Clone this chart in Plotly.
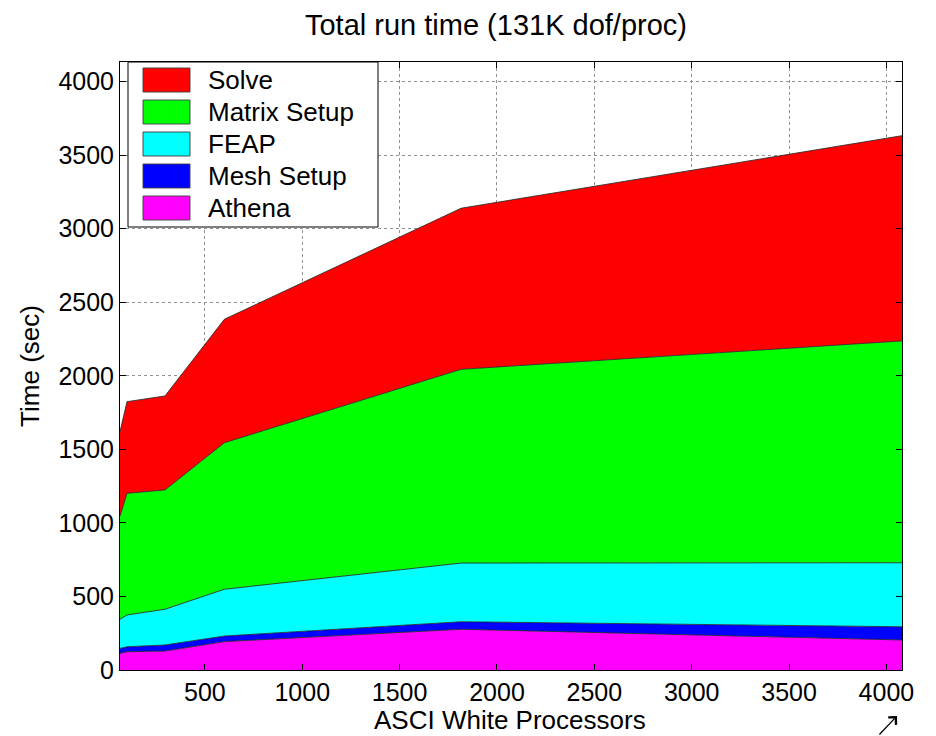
import plotly.graph_objects as go

processors = [64, 100, 295, 600, 1816, 4080]
athena = [113, 124, 129, 193, 277, 204]
mesh_setup = [34, 34, 41, 38, 51, 90]
feap = [198, 216, 243, 318, 399, 435]
matrix_setup = [702, 827, 811, 996, 1317, 1508]
solve = [573, 623, 639, 839, 1095, 1395]

series_names = ["Athena", "Mesh Setup", "FEAP", "Matrix Setup", "Solve"]
series_values = [athena, mesh_setup, feap, matrix_setup, solve]
series_colors = ["#FF00FF", "#0000FF", "#00FFFF", "#00FF00", "#FF0000"]

x_ticks = [500, 1000, 1500, 2000, 2500, 3000, 3500, 4000]
y_ticks = [0, 500, 1000, 1500, 2000, 2500, 3000, 3500, 4000]

# page is offset by 8px body margin
W, H = 928, 728
L, R, T, B = 112, 34, 54, 66
PX0, PY0 = 8 + L, 8 + T           # plot-area top-left in window pixels
PW, PH = W - L - R, H - T - B


def px_to_paper(px, py):
    return (px - PX0) / PW, (PY0 + PH - py) / PH


fig = go.Figure()
for name, vals, color in zip(series_names, series_values, series_colors):
    fig.add_trace(go.Scatter(
        x=processors, y=vals, name=name, mode="lines",
        stackgroup="one", fillcolor=color,
        line=dict(color="rgba(40,40,40,0.85)", width=1),
        showlegend=False,
    ))

font_family = "Liberation Sans, Arial, sans-serif"
fig.update_layout(
    width=W, height=H,
    margin=dict(l=L, r=R, t=T, b=B),
    paper_bgcolor="white", plot_bgcolor="white",
    font=dict(family=font_family, size=26, color="black"),
    title=dict(text="Total run time (131K dof/proc)", x=(496 - 8) / W,
               xanchor="center", y=1 - (25 - 8) / H, yanchor="middle",
               font=dict(size=29, color="black")),
)
fig.update_xaxes(
    range=[64, 4080], tickvals=x_ticks, ticktext=[str(v) for v in x_ticks],
    showgrid=True, gridcolor="#909090", griddash="dot", gridwidth=1,
    showline=True, mirror="ticks", linecolor="black", linewidth=1,
    ticks="inside", ticklen=6, tickcolor="black", zeroline=False,
    tickfont=dict(size=25),
)
fig.update_yaxes(
    range=[0, 4133], tickvals=y_ticks, ticktext=[str(v) for v in y_ticks],
    showgrid=True, gridcolor="#909090", griddash="dot", gridwidth=1,
    showline=True, mirror="ticks", linecolor="black", linewidth=1,
    ticks="inside", ticklen=6, tickcolor="black", zeroline=False,
    title=dict(text="Time (sec)", standoff=11, font=dict(size=26)),
    tickfont=dict(size=25),
)

# x-axis title placed as annotation
xt, yt = px_to_paper(510, 720)
fig.add_annotation(xref="paper", yref="paper", x=xt, y=yt, xanchor="center",
                   yanchor="middle", text="ASCI White Processors", showarrow=False,
                   font=dict(size=26, color="black"))

# legend drawn manually (filled rectangle swatches)
bx0, by0 = px_to_paper(128, 62)
bx1, by1 = px_to_paper(378, 227)
fig.add_shape(type="rect", xref="paper", yref="paper", x0=bx0, y0=by1, x1=bx1, y1=by0,
              line=dict(color="black", width=1), fillcolor="white", layer="above")
legend_order = list(zip(series_names, series_colors))[::-1]
for i, (name, color) in enumerate(legend_order):
    cy = 80 + 32 * i
    sx0, sy0 = px_to_paper(143, cy - 12)
    sx1, sy1 = px_to_paper(190, cy + 12)
    fig.add_shape(type="rect", xref="paper", yref="paper", x0=sx0, y0=sy1, x1=sx1, y1=sy0,
                  line=dict(color="rgba(60,60,60,0.9)", width=1), fillcolor=color,
                  layer="above")
    tx, ty = px_to_paper(206, cy)
    fig.add_annotation(xref="paper", yref="paper", x=tx, y=ty, xanchor="left",
                       yanchor="middle", text=name, showarrow=False,
                       font=dict(size=26, color="black"))

ax_tip, ay_tip = px_to_paper(897, 716)
fig.add_annotation(
    xref="paper", yref="paper", x=ax_tip, y=ay_tip, ax=-19, ay=20,
    text="", showarrow=True, arrowhead=4, arrowsize=1.6, arrowwidth=1.3,
    arrowcolor="black",
)
fig.write_html("out.html")
